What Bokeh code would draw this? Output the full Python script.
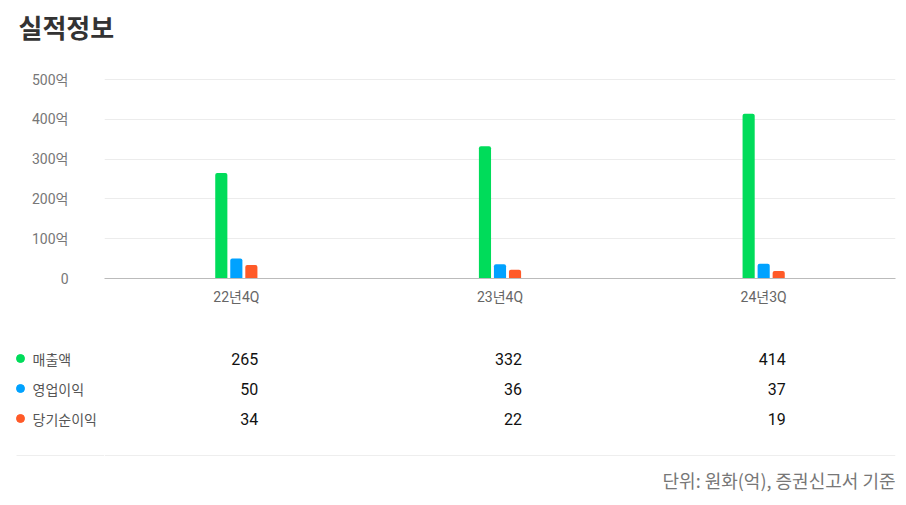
from bokeh.plotting import figure
from bokeh.models import ColumnDataSource, FactorRange, Range1d, FixedTicker
from bokeh.layouts import column, row
from bokeh.transform import dodge
from bokeh.core.properties import value
from bokeh.embed import file_html
from bokeh.resources import INLINE

# data
periods = ["22년4Q", "23년4Q", "24년3Q"]
series = ["매출액", "영업이익", "당기순이익"]
sales = [265, 332, 414]
op_income = [50, 36, 37]
net_income = [34, 22, 19]
colors = ["#00dc5a", "#00a2ff", "#ff5a28"]
y_ticks = [0, 100, 200, 300, 400, 500]
y_tick_labels = ["0", "100억", "200억", "300억", "400억", "500억"]

KR = "Noto Sans CJK KR"
MIX = "Roboto, Noto Sans CJK KR"


def blank(fig):
    fig.axis.visible = False
    fig.grid.visible = False
    fig.outline_line_color = None
    fig.background_fill_color = "white"
    fig.border_fill_color = "white"
    return fig


# bar chart (title lives in the figure's own title); the range runs past 500
# so the top gridline sits some way under the title
src = ColumnDataSource(data=dict(period=periods, sales=sales, op=op_income, net=net_income))
p = figure(width=898, height=320, x_range=FactorRange(*periods), y_range=Range1d(0, 572.9),
           min_border_left=104, min_border_right=3, min_border_top=50, min_border_bottom=42,
           toolbar_location=None, output_backend="svg")
p.x_range.range_padding = 0
bar_w = 0.046
for col, off, c in zip(["sales", "op", "net"], [-0.057, 0, 0.057], colors):
    p.vbar(x=dodge("period", off, range=p.x_range), top=col, width=bar_w, source=src,
           color=c, line_color=None, border_radius=(2, 2, 0, 0))

p.title.text = "실적정보"
p.title.align = "left"
p.title.offset = -86
p.title.standoff = 11
p.title.text_font = KR
p.title.text_font_size = "26px"
p.title.text_font_style = "bold"
p.title.text_color = "#333333"

p.outline_line_color = None
p.xgrid.grid_line_color = None
p.ygrid.grid_line_color = "#ececec"
p.ygrid.grid_line_width = 1
p.yaxis.ticker = FixedTicker(ticks=y_ticks)
p.yaxis.major_label_overrides = dict(zip(y_ticks, y_tick_labels))
p.yaxis.axis_line_color = None
p.yaxis.major_tick_line_color = None
p.yaxis.minor_tick_line_color = None
p.yaxis.major_tick_out = 0
p.yaxis.major_label_standoff = 36
p.yaxis.major_label_text_font = MIX
p.yaxis.major_label_text_font_size = "14px"
p.yaxis.major_label_text_color = "#777777"
p.xaxis.axis_line_color = "#bbbbbb"
p.xaxis.major_tick_line_color = None
p.xaxis.major_tick_out = 0
p.xaxis.major_label_standoff = 10
p.xaxis.major_label_text_font = MIX
p.xaxis.major_label_text_font_size = "14px"
p.xaxis.major_label_text_color = "#666666"

# table under the chart
rows_y = FactorRange(*series[::-1])
lab_fig = blank(figure(width=104, height=120, x_range=Range1d(0, 104), y_range=rows_y,
                       min_border_left=0, min_border_right=0, min_border_top=23, min_border_bottom=7,
                       toolbar_location=None, output_backend="svg"))
lab_src = ColumnDataSource(data=dict(name=series, color=colors, x=[20] * 3, tx=[32] * 3))
lab_fig.scatter(x="x", y="name", color="color", size=8, source=lab_src)
lab_fig.text(x="tx", y="name", text="name", source=lab_src, text_font=value(KR),
             text_font_size="14px", text_color="#555555", text_baseline="middle")

tab = dict(period=[], name=[], val=[])
for name, vals in zip(series, [sales, op_income, net_income]):
    for per, v in zip(periods, vals):
        tab["period"].append(per)
        tab["name"].append(name)
        tab["val"].append(str(v))
val_fig = blank(figure(width=794, height=120, x_range=p.x_range, y_range=rows_y,
                       min_border_left=0, min_border_right=3, min_border_top=23, min_border_bottom=7,
                       toolbar_location=None, output_backend="svg"))
val_fig.text(x="period", y="name", text="val", source=ColumnDataSource(data=tab),
             x_offset=22, text_align="right", text_baseline="middle",
             text_font=value("Roboto"), text_font_size="16px", text_color="#111111")

# separator and unit note
foot_l = blank(figure(width=104, height=57, x_range=Range1d(0, 104), y_range=Range1d(57, 0),
                      min_border_left=0, min_border_right=0, min_border_top=0, min_border_bottom=0,
                      toolbar_location=None, output_backend="svg"))
foot_l.segment(x0=[16], y0=[15], x1=[104], y1=[15], line_color="#eeeeee", line_width=1)
foot_r = blank(figure(width=794, height=57, x_range=Range1d(0, 791), y_range=Range1d(57, 0),
                      min_border_left=0, min_border_right=3, min_border_top=0, min_border_bottom=0,
                      toolbar_location=None, output_backend="svg"))
foot_r.segment(x0=[0], y0=[15], x1=[791], y1=[15], line_color="#eeeeee", line_width=1)
foot_r.text(x=[791], y=[39], text=["단위: 원화(억), 증권신고서 기준"], text_align="right",
            text_baseline="middle", text_font=value(KR), text_font_size="18px",
            text_color="#777777")

layout = column(p, row(lab_fig, val_fig), row(foot_l, foot_r))
open("out.html", "w").write(file_html(layout, INLINE))
